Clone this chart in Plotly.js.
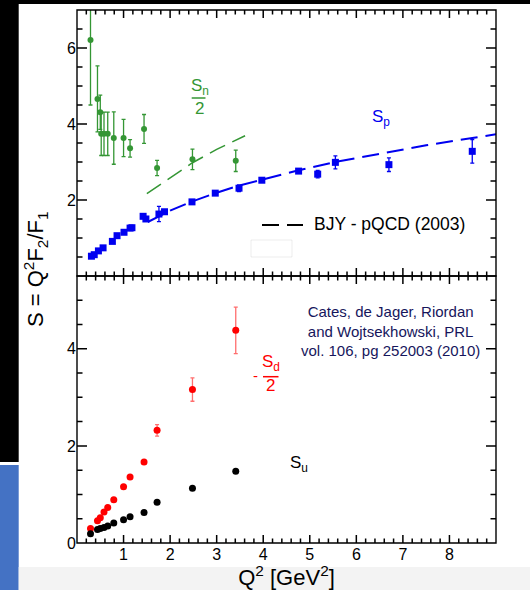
<!DOCTYPE html>
<html><head><meta charset="utf-8">
<script src="https://cdn.plot.ly/plotly-3.0.1.min.js"></script>
<style>html,body{margin:0;padding:0;background:#fff;}#chart{width:530px;height:590px;}</style>
</head><body><div id="chart"></div>
<script>
// ---- data ----
// Upper panel: S_n/2 (green)
const snQ2  = [0.29, 0.44, 0.50, 0.52, 0.58, 0.66, 0.79, 1.00, 1.14, 1.44, 1.72, 2.48, 3.41];
const snVal = [6.21, 4.66, 4.31, 3.74, 3.74, 3.74, 3.63, 3.63, 3.36, 3.87, 2.84, 3.07, 3.03];
const snErr = [1.71, 0.87, 0.45, 0.57, 0.57, 0.57, 0.69, 0.49, 0.23, 0.38, 0.20, 0.27, 0.28];
// Upper panel: S_p (blue)
const spQ2  = [0.31, 0.37, 0.46, 0.56, 0.76, 0.86, 1.01, 1.14, 1.18, 1.42, 1.48, 1.76, 1.88, 2.47, 2.97, 3.48, 3.97, 4.76, 5.17, 5.55, 6.70, 8.49];
const spVal = [0.52, 0.56, 0.66, 0.74, 0.91, 1.06, 1.15, 1.26, 1.27, 1.57, 1.50, 1.63, 1.69, 1.95, 2.18, 2.31, 2.52, 2.76, 2.68, 2.99, 2.93, 3.28];
const spErr = [0.02, 0.02, 0.02, 0.02, 0.03, 0.03, 0.03, 0.03, 0.03, 0.04, 0.04, 0.20, 0.05, 0.04, 0.04, 0.09, 0.04, 0.05, 0.10, 0.17, 0.18, 0.31];
// BJY - pQCD (2003) curves
const bjyPQ2  = [1.52, 1.76, 2.00, 2.47, 2.97, 3.48, 3.97, 4.76, 5.55, 6.70, 7.50, 8.49, 9.00];
const bjyPVal = [1.42, 1.56, 1.72, 1.96, 2.18, 2.38, 2.54, 2.78, 3.00, 3.27, 3.44, 3.63, 3.73];
const bjyNQ2  = [1.50, 1.93, 2.48, 3.00, 3.61];
const bjyNVal = [2.17, 2.53, 2.98, 3.33, 3.69];
// Lower panel: -S_d/2 (red) and S_u (black)
const flavQ2 = [0.29, 0.44, 0.50, 0.58, 0.66, 0.79, 1.00, 1.14, 1.44, 1.72, 2.48, 3.41];
const sdVal  = [0.30, 0.46, 0.52, 0.64, 0.73, 0.89, 1.16, 1.36, 1.67, 2.32, 3.16, 4.38];
const sdErr  = [0.02, 0.02, 0.02, 0.02, 0.02, 0.03, 0.03, 0.03, 0.04, 0.12, 0.24, 0.48];
const suVal  = [0.19, 0.28, 0.30, 0.32, 0.35, 0.41, 0.48, 0.54, 0.63, 0.84, 1.13, 1.48];
// tick labels
const xTicks = [1, 2, 3, 4, 5, 6, 7, 8];
const yTopTicks = [2, 4, 6];
const yBotTicks = [0, 2, 4];
// axis ranges
const xRange = [0, 9];
const yTopRange = [0, 7];
const yBotRange = [0, 5.5];

// ---- styling ----
const FONT = 'Liberation Sans, Arial, Helvetica, sans-serif';
const GREEN = 'rgb(52,150,52)';
const BLUE = 'rgb(0,0,240)';
const RED = 'rgb(255,0,0)';
const NAVY = 'rgb(22,22,92)';
const DASH = '17px,8px';

const traces = [
  {x: snQ2, y: snVal, xaxis:'x2', yaxis:'y', type:'scatter', mode:'markers',
   marker:{symbol:'circle', size:6, color:GREEN},
   error_y:{type:'data', array:snErr, visible:true, color:GREEN, thickness:1.3, width:2}},
  {x: bjyNQ2, y: bjyNVal, xaxis:'x2', yaxis:'y', type:'scatter', mode:'lines',
   line:{color:GREEN, width:1.5, dash:DASH}},
  {x: bjyPQ2, y: bjyPVal, xaxis:'x2', yaxis:'y', type:'scatter', mode:'lines',
   line:{color:BLUE, width:2, dash:DASH}},
  {x: spQ2, y: spVal, xaxis:'x2', yaxis:'y', type:'scatter', mode:'markers',
   marker:{symbol:'square', size:7, color:BLUE},
   error_y:{type:'data', array:spErr, visible:true, color:BLUE, thickness:1.3, width:2}},
  {x: flavQ2, y: sdVal, xaxis:'x', yaxis:'y2', type:'scatter', mode:'markers',
   marker:{symbol:'circle', size:7, color:RED},
   error_y:{type:'data', array:sdErr, visible:true, color:'rgb(255,110,110)', thickness:1.3, width:2}},
  {x: flavQ2, y: suVal, xaxis:'x', yaxis:'y2', type:'scatter', mode:'markers',
   marker:{symbol:'circle', size:7, color:'black'}}
];

function axBase(){ return {showline:false, ticks:'', showgrid:false, zeroline:false,
  tickfont:{family:FONT, size:16, color:'black'}, tickmode:'array', fixedrange:true}; }

// plot area in pixels: x 77..496, y 10..543 ; two equal panels
const PL=77, PW=419, PB=543, PH=533, SPLIT=0.501;
const HBOT = PH*SPLIT, HTOP = PH*(1-SPLIT);
const px = v => (v - PL) / PW;
const py = v => (PB - v) / PH;

// inward tick marks on all sides of both panels, in axis units
const xPerPx = (xRange[1]-xRange[0]) / PW;
function xTickPath(yr, h, atBottom){
  const perPx = (yr[1]-yr[0]) / h;
  const base = atBottom ? yr[0] : yr[1], dir = atBottom ? 1 : -1;
  let p = '';
  for (let k = 1; k < 45; k++) {
    const v = k/5, len = (k % 5 === 0 ? 8 : 4.5) * perPx;
    p += `M${v},${base}L${v},${base + dir*len}`;
  }
  return p;
}
function yTickPath(nHalf, atLeft){
  const base = atLeft ? xRange[0] : xRange[1], dir = atLeft ? 1 : -1;
  let p = '';
  for (let k = 1; k <= nHalf; k++) {
    const v = k/2, len = (k % 4 === 0 ? 10 : 5.5) * xPerPx;
    p += `M${base},${v}L${base + dir*len},${v}`;
  }
  return p;
}
const tickLine = {color:'black', width:1.5};
const tickShapes = [
  {type:'path', xref:'x', yref:'y2', path:xTickPath(yBotRange, HBOT, true), line:tickLine},
  {type:'path', xref:'x', yref:'y2', path:xTickPath(yBotRange, HBOT, false), line:tickLine},
  {type:'path', xref:'x2', yref:'y', path:xTickPath(yTopRange, HTOP, true), line:tickLine},
  {type:'path', xref:'x2', yref:'y', path:xTickPath(yTopRange, HTOP, false), line:tickLine},
  {type:'path', xref:'x', yref:'y2', path:yTickPath(10, true), line:tickLine},
  {type:'path', xref:'x', yref:'y2', path:yTickPath(10, false), line:tickLine},
  {type:'path', xref:'x2', yref:'y', path:yTickPath(13, true), line:tickLine},
  {type:'path', xref:'x2', yref:'y', path:yTickPath(13, false), line:tickLine}
];

const ann = (text, x, y, size, color, opts) => Object.assign({
  text, x: px(x), y: py(y), xref:'paper', yref:'paper', showarrow:false,
  xanchor:'center', yanchor:'middle', font:{family:FONT, size, color}}, opts||{});

const layout = {
  width:530, height:590,
  margin:{l:77, r:34, t:10, b:47},
  paper_bgcolor:'white', plot_bgcolor:'white',
  showlegend:false,
  font:{family:FONT, color:'black'},
  xaxis:Object.assign(axBase(), {range:xRange, anchor:'y2', tickvals:xTicks,
    title:{text:'Q<sup>2</sup> [GeV<sup>2</sup>]', font:{family:FONT, size:22, color:'black'}, standoff:6}}),
  xaxis2:Object.assign(axBase(), {range:xRange, anchor:'y', showticklabels:false, tickvals:xTicks}),
  yaxis:Object.assign(axBase(), {domain:[SPLIT,1], anchor:'x2', range:yTopRange, tickvals:yTopTicks}),
  yaxis2:Object.assign(axBase(), {domain:[0,SPLIT], anchor:'x', range:yBotRange, tickvals:yBotTicks}),
  shapes:[
    // surrounding slide decoration
    {type:'rect', xref:'paper', yref:'paper', x0:px(0), x1:px(530), y0:py(0), y1:py(4), fillcolor:'black', line:{width:0}, layer:'below'},
    {type:'rect', xref:'paper', yref:'paper', x0:px(0), x1:px(18.7), y0:py(0), y1:py(462), fillcolor:'black', line:{width:0}, layer:'below'},
    {type:'rect', xref:'paper', yref:'paper', x0:px(0), x1:px(18.7), y0:py(465), y1:py(590), fillcolor:'rgb(68,114,196)', line:{width:0}, layer:'below'},
    {type:'rect', xref:'paper', yref:'paper', x0:px(18.7), x1:px(530), y0:py(567), y1:py(590), fillcolor:'rgb(243,243,243)', line:{width:0}, layer:'below'},
    // panel frames
    {type:'rect', xref:'paper', yref:'paper', x0:0, x1:1, y0:0, y1:SPLIT, line:{color:'black', width:1.4}},
    {type:'rect', xref:'paper', yref:'paper', x0:0, x1:1, y0:SPLIT, y1:1, line:{color:'black', width:1.4}},
    // legend sample line
    {type:'line', xref:'paper', yref:'paper', x0:px(262), x1:px(303), y0:py(225), y1:py(225), line:{color:'black', width:2, dash:DASH}},
    // faint box under legend
    {type:'rect', xref:'paper', yref:'paper', x0:px(251), x1:px(292), y0:py(240), y1:py(257), line:{color:'rgba(0,0,0,0.07)', width:1}},
    // fraction bars
    {type:'line', xref:'paper', yref:'paper', x0:px(191.7), x1:px(205.5), y0:py(98), y1:py(98), line:{color:GREEN, width:1.5}},
    {type:'line', xref:'paper', yref:'paper', x0:px(263), x1:px(278.5), y0:py(376.7), y1:py(376.7), line:{color:RED, width:1.5}}
  ].concat(tickShapes),
  annotations:[
    ann('S = Q<sup>2</sup>F<sub>2</sub>/F<sub>1</sub>', 35, 269, 22, 'black', {textangle:-90}),
    ann('BJY - pQCD (2003)', 312, 224, 17.5, 'black', {xanchor:'left'}),
    ann('S<sub>n</sub>', 199.5, 87, 17, GREEN),
    ann('2', 199, 108.5, 17, GREEN),
    ann('S<sub>p</sub>', 380.5, 118, 17, BLUE),
    ann('-', 255.5, 375, 15, RED),
    ann('S<sub>d</sub>', 270.5, 363, 17, RED),
    ann('2', 270.5, 385, 17, RED),
    ann('S<sub>u</sub>', 298.5, 464, 17, 'black'),
    ann('Cates, de Jager, Riordan<br>and Wojtsekhowski, PRL<br>vol. 106, pg 252003 (2010)', 390.8, 331, 15, NAVY)
  ]
};

Plotly.newPlot('chart', traces, layout, {displayModeBar:false, staticPlot:true});
</script></body></html>
